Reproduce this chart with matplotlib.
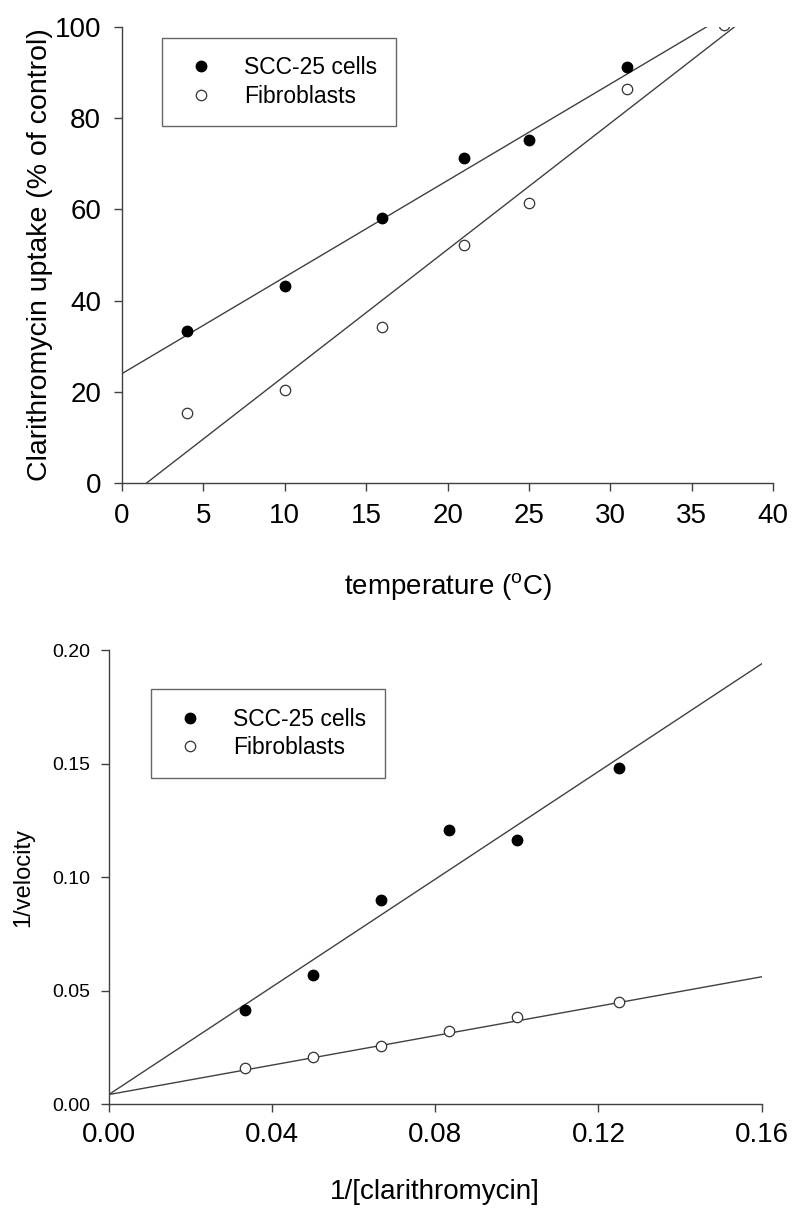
import matplotlib
matplotlib.use("Agg")
import matplotlib.pyplot as plt

plt.rcParams['font.family'] = ['Liberation Sans', 'DejaVu Sans']
plt.rcParams['mathtext.fontset'] = 'custom'
plt.rcParams['mathtext.rm'] = 'Liberation Sans'

# top panel: uptake vs temperature
temp_scc = [4, 10, 16, 21, 25, 31]
uptake_scc = [33.3, 43.2, 58.2, 71.3, 75.3, 91.3]
temp_fib = [4, 10, 16, 21, 25, 31, 37]
uptake_fib = [15.4, 20.3, 34.2, 52.2, 61.3, 86.3, 100.4]
fit_scc_x = [0, 36.1]
fit_scc_y = [24.0, 100.4]
fit_fib_x = [1.5, 37.7]
fit_fib_y = [0, 100.2]

# bottom panel: double reciprocal plot
inv_conc = [1/30, 1/20, 1/15, 1/12, 1/10, 1/8]
inv_vel_scc = [0.0415, 0.0567, 0.0899, 0.1207, 0.1165, 0.1482]
inv_vel_fib = [0.0157, 0.0209, 0.0257, 0.0324, 0.0383, 0.0448]
line_x = [0, 0.16]
line_scc_y = [0.0042, 0.1940]
line_fib_y = [0.0042, 0.0561]

line_col = '#404040'
spine_col = '#404040'

fig = plt.figure(figsize=(8, 12.2), dpi=100)


def style(ax):
    for s in ['top', 'right']:
        ax.spines[s].set_visible(False)
    for s in ['left', 'bottom']:
        ax.spines[s].set_color(spine_col)
        ax.spines[s].set_linewidth(1)
    ax.tick_params(direction='out', length=6, width=1, color=spine_col)


def legend(ax, anchor):
    leg = ax.legend(loc='upper left', bbox_to_anchor=anchor, fontsize=16.5,
                    frameon=True, fancybox=False, edgecolor=spine_col,
                    borderpad=0.8, handletextpad=1.0, labelspacing=0.25,
                    handlelength=1.8, borderaxespad=0)
    leg.get_frame().set_linewidth(1)
    return leg


ax1 = fig.add_axes([0.1525, 0.604, 0.814, 0.374])
ax1.plot(fit_scc_x, fit_scc_y, color=line_col, lw=1)
ax1.plot(fit_fib_x, fit_fib_y, color=line_col, lw=1)
ax1.plot(temp_scc, uptake_scc, 'o', color='black', ms=7.5, label='SCC-25 cells')
ax1.plot(temp_fib, uptake_fib, 'o', mfc='white', mec='#333333', mew=0.9, ms=7.5,
         label='Fibroblasts')
ax1.set_xlim(0, 40)
ax1.set_ylim(0, 100)
ax1.set_xticks(range(0, 41, 5))
ax1.set_yticks(range(0, 101, 20))
style(ax1)
ax1.tick_params(labelsize=20)
ax1.tick_params(axis='x', pad=8)
ax1.tick_params(axis='y', pad=9)
ax1.set_xlabel('temperature ($^{\\mathrm{o}}$C)', fontsize=20, labelpad=31)
ax1.set_ylabel('Clarithromycin uptake (% of control)', fontsize=20.5, labelpad=1)
legend(ax1, (0.061, 0.976))

ax2 = fig.add_axes([0.136, 0.095, 0.816, 0.372])
ax2.plot(line_x, line_scc_y, color=line_col, lw=1)
ax2.plot(line_x, line_fib_y, color=line_col, lw=1)
ax2.plot(inv_conc, inv_vel_scc, 'o', color='black', ms=7.5, label='SCC-25 cells')
ax2.plot(inv_conc, inv_vel_fib, 'o', mfc='white', mec='#333333', mew=0.9, ms=7.5,
         label='Fibroblasts')
ax2.set_xlim(0, 0.16)
ax2.set_ylim(0, 0.20)
ax2.set_xticks([0, 0.04, 0.08, 0.12, 0.16])
ax2.set_xticklabels(['0.00', '0.04', '0.08', '0.12', '0.16'])
ax2.set_yticks([0, 0.05, 0.10, 0.15, 0.20])
ax2.set_yticklabels(['0.00', '0.05', '0.10', '0.15', '0.20'])
style(ax2)
ax2.tick_params(axis='x', labelsize=20, pad=7)
ax2.tick_params(axis='y', labelsize=14, pad=7)
ax2.set_xlabel('1/[clarithromycin]', fontsize=20, labelpad=22)
ax2.set_ylabel('1/velocity', fontsize=17, labelpad=13)
legend(ax2, (0.064, 0.914))

fig.savefig('out.png', dpi=100, facecolor='white')
